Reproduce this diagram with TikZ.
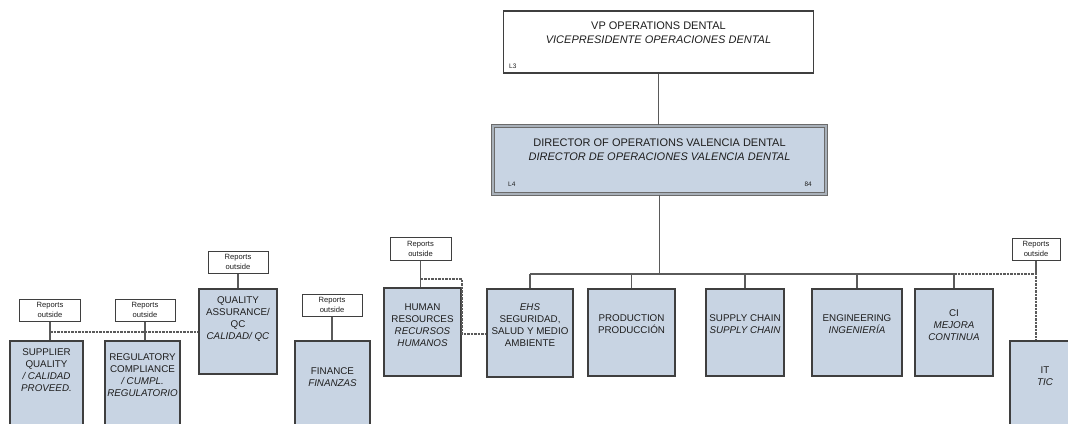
\documentclass[tikz,border=0pt]{standalone}
\usepackage{fontspec}
\setmainfont{Liberation Sans}
\begin{document}
\begin{tikzpicture}[x=1pt,y=-1pt,
  unit/.style={draw=boxline,line width=1.2pt,fill=unitfill,inner sep=0pt},
  topbox/.style={draw=boxline,line width=1.1pt,fill=white,inner sep=0pt},
  dirbox/.style={draw=dirline,double=dirinner,double distance=1.2pt,line width=1.6pt,fill=unitfill,inner sep=0pt},
  repbox/.style={draw=boxline,line width=1pt,fill=white,inner sep=0pt,
    font=\fontsize{7.6}{10}\selectfont,text=txt,align=center},
  lbl/.style={font=\fontsize{9.8}{12}\selectfont,text=txt,align=center,inner sep=0pt,anchor=north},
  head/.style={font=\fontsize{11}{13.8}\selectfont,text=txt,align=center,inner sep=0pt,anchor=north},
  tag/.style={font=\fontsize{6.5}{7.5}\selectfont,text=txt,inner sep=0pt},
  link/.style={draw=linegray,line width=1.8pt},
  dotlink/.style={draw=linegray,line width=1.6pt,dash pattern=on 2.5pt off 1pt}]
\definecolor{boxline}{HTML}{3F3F3F}
\definecolor{dirline}{HTML}{6B6B6B}
\definecolor{dirinner}{HTML}{A9B1BA}
\definecolor{unitfill}{HTML}{C8D4E3}
\definecolor{linegray}{HTML}{5A5A5A}
\definecolor{txt}{HTML}{1E1E1E}

\useasboundingbox (0,0) rectangle (1068,423);
\clip (0,0) rectangle (1068,423);

% --- top of the chart ---
\node[topbox,minimum width=310pt,minimum height=62pt] (vp) at (658.5,42) {};
\node[head] at (658.5,21.5) {VP OPERATIONS DENTAL\\\textit{VICEPRESIDENTE OPERACIONES DENTAL}};
\node[tag,anchor=west] at (509,66) {L3};

\node[dirbox,minimum width=333pt,minimum height=68pt] (dir) at (659.5,160) {};
\node[head] at (659.5,138.5) {DIRECTOR OF OPERATIONS VALENCIA DENTAL\\\textit{DIRECTOR DE OPERACIONES VALENCIA DENTAL}};
\node[tag,anchor=west] at (508,184) {L4};
\node[tag,anchor=east] at (812,184) {84};

\draw[link] (vp.south) -- (vp.south |- dir.north);
\coordinate (bus) at (dir.south |- 0,274);
\draw[link] (dir.south) -- (bus);

% --- direct reports ---
\node[unit,minimum width=86pt,minimum height=88pt] (ehs) at (530,333) {};
\node[lbl] at (530,303) {\textit{EHS}\\SEGURIDAD,\\SALUD Y MEDIO\\AMBIENTE};

\node[unit,minimum width=87pt,minimum height=87pt] (prod) at (631.5,332.5) {};
\node[lbl] at (631.5,314) {PRODUCTION\\PRODUCCIÓN};

\node[unit,minimum width=78pt,minimum height=87pt] (sc) at (745,332.5) {};
\node[lbl] at (745,314) {SUPPLY CHAIN\\\textit{SUPPLY CHAIN}};

\node[unit,minimum width=90pt,minimum height=87pt] (eng) at (857,332.5) {};
\node[lbl] at (857,314) {ENGINEERING\\\textit{INGENIERÍA}};

\node[unit,minimum width=78pt,minimum height=87pt] (ci) at (954,332.5) {};
\node[lbl] at (954,309) {CI\\\textit{MEJORA}\\\textit{CONTINUA}};

\coordinate (busw) at (ehs.north |- bus);
\coordinate (buse) at (ci.north |- bus);
\draw[link] (busw) -- (buse);
\foreach \u in {ehs,prod,sc,eng,ci}
  \draw[link] (\u.north |- bus) -- (\u.north);

% --- IT, reporting outside ---
\node[repbox,minimum width=48pt,minimum height=22pt] (itrep) at (1036,249) {Reports\\outside};
\node[unit,minimum width=90pt,minimum height=120pt] (it) at (1055,401) {};
\node[lbl] at (1045,367) {IT\\\textit{TIC}};
\coordinate (itbus) at (itrep.south |- bus);
\draw[link] (itrep.south) -- (itbus);
\draw[dotlink] (buse) -- (itbus) -- (itrep.south |- it.north);

% --- HR, reporting outside ---
\node[repbox,minimum width=61pt,minimum height=23pt] (hrrep) at (420.5,248.5) {Reports\\outside};
\node[unit,minimum width=77pt,minimum height=88pt] (hr) at (422.5,332) {};
\node[lbl] at (422.5,304) {HUMAN\\RESOURCES\\\textit{RECURSOS}\\\textit{HUMANOS}};
\draw[link] (hrrep.south) -- (hrrep.south |- hr.north);
\coordinate (hra) at (hrrep.south |- 0,279);
\coordinate (hrb) at (462,279);
\coordinate (hrc) at (462,334);
\draw[dotlink] (hra) -- (hrb) -- (hrc) -- (hrc -| ehs.west);

% --- Finance, reporting outside ---
\node[repbox,minimum width=60pt,minimum height=22pt] (finrep) at (332,305) {Reports\\outside};
\node[unit,minimum width=75pt,minimum height=120pt] (fin) at (332.5,401) {};
\node[lbl] at (332.5,367) {FINANCE\\\textit{FINANZAS}};
\draw[link] (finrep.south) -- (finrep.south |- fin.north);

% --- Quality group, reporting outside ---
\node[repbox,minimum width=60pt,minimum height=22pt] (qarep) at (238,262) {Reports\\outside};
\node[unit,minimum width=78pt,minimum height=85pt] (qa) at (238,331.5) {};
\node[lbl] at (238,296) {QUALITY\\ASSURANCE/\\QC\\\textit{CALIDAD/ QC}};
\draw[link] (qarep.south) -- (qa.north);

\node[repbox,minimum width=60pt,minimum height=22pt] (rcrep) at (145,310) {Reports\\outside};
\node[unit,minimum width=75pt,minimum height=120pt] (rc) at (142.5,401) {};
\node[lbl] at (142.5,353) {REGULATORY\\COMPLIANCE\\\textit{/ CUMPL.}\\\textit{REGULATORIO}};
\draw[link] (rcrep.south) -- (rcrep.south |- rc.north);

\node[repbox,minimum width=61pt,minimum height=22pt] (sqrep) at (50,310) {Reports\\outside};
\node[unit,minimum width=73pt,minimum height=120pt] (sq) at (46.5,401) {};
\node[lbl] at (46.5,348) {SUPPLIER\\QUALITY\\\textit{/ CALIDAD}\\\textit{PROVEED.}};
\draw[link] (sqrep.south) -- (sqrep.south |- sq.north);

\coordinate (qsa) at (sqrep.south |- 0,332);
\draw[dotlink] (qsa) -- (qsa -| qa.west);
\end{tikzpicture}
\end{document}
